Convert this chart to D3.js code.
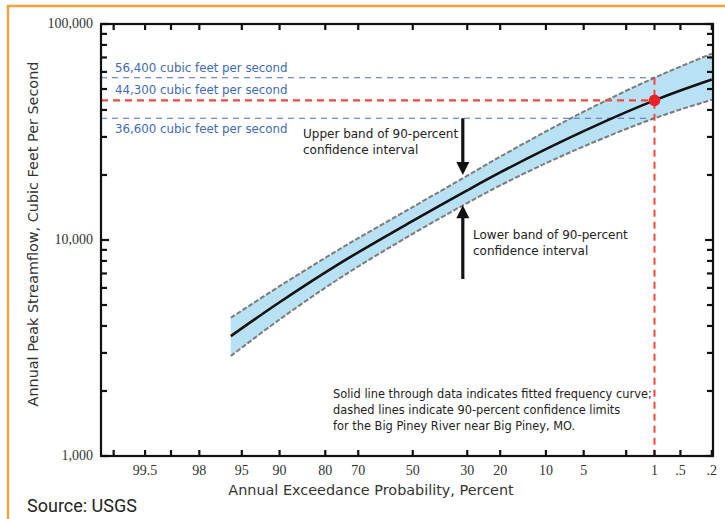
<!DOCTYPE html>
<html lang="en">
<head>
<meta charset="UTF-8">
<title>Big Piney River peak streamflow frequency</title>
<script src="https://cdn.jsdelivr.net/npm/d3@7"></script>
<style>
  body { margin: 0; background: #fff; }
  svg { display: block; }
  .tick-label { font-family: "Liberation Serif", serif; font-size: 14px; fill: #333; }
  .axis-title { font-family: "DejaVu Sans", sans-serif; font-size: 14.4px; fill: #333; }
  .note { font-family: "DejaVu Sans", sans-serif; font-size: 12px; fill: #222; }
  .note.small { font-size: 11.4px; }
  .flow-label { font-family: "DejaVu Sans", sans-serif; font-size: 11.8px; fill: #4169b5; }
  .source { font-family: Roboto, sans-serif; font-size: 18px; fill: #222; }
</style>
</head>
<body>
<svg id="chart" width="725" height="519"></svg>
<script>
// annual exceedance probability (percent) and peak streamflow (cubic feet per second)
const aep    = [96, 90, 75, 50, 30, 20, 10, 5, 2, 1, 0.5, 0.2];
const fitted = [3590, 5150, 7940, 12260, 16980, 20550, 26340, 31920, 39080, 44300, 49200, 55340];
const upper  = [4365, 6110, 9250, 14210, 19860, 24310, 31800, 39260, 49090, 56400, 63530, 72950];
const lower  = [2904, 4285, 6790, 10680, 14830, 17890, 22670, 27100, 32660, 36600, 40180, 44570];

// axis ticks
const xTicks  = [99.8, 99.5, 99, 98, 95, 90, 80, 70, 50, 30, 20, 10, 5, 2, 1, 0.5, 0.2];
const xLabels = ["", "99.5", "", "98", "95", "90", "80", "70", "50", "30", "20", "10", "5", "", "1", ".5", ".2"];
const yMajor  = [1000, 10000, 100000];

// the 1-percent flood
const designAep = 1;
const flowLines = [56400, 44300, 36600];
const flowText  = ["56,400 cubic feet per second", "44,300 cubic feet per second", "36,600 cubic feet per second"];

// arrows pointing at the bands: [aep, tail flow, tip flow]
const upperArrow = [31.5, 36600, 20000];
const lowerArrow = [31.5, 6600, 14500];

const svg = d3.select("#chart");
const pLeft = 101, pRight = 713, pTop = 24, pBottom = 456;

// inverse normal cdf (Acklam) for the probability axis
function qnorm(p) {
  const a = [-39.69683028665376, 220.9460984245205, -275.9285104469687, 138.3577518672690, -30.66479806614716, 2.506628277459239];
  const b = [-54.47609879822406, 161.5858368580409, -155.6989798598866, 66.80131188771972, -13.28068155288572];
  const c = [-0.007784894002430293, -0.3223964580411365, -2.400758277161838, -2.549732539343734, 4.374664141464968, 2.938163982698783];
  const d = [0.007784695709041462, 0.3224671290700398, 2.445134137142996, 3.754408661907416];
  const pl = 0.02425;
  let q, r;
  if (p < pl) {
    q = Math.sqrt(-2 * Math.log(p));
    return (((((c[0]*q+c[1])*q+c[2])*q+c[3])*q+c[4])*q+c[5]) / ((((d[0]*q+d[1])*q+d[2])*q+d[3])*q+1);
  }
  if (p <= 1 - pl) {
    q = p - 0.5; r = q * q;
    return (((((a[0]*r+a[1])*r+a[2])*r+a[3])*r+a[4])*r+a[5])*q / (((((b[0]*r+b[1])*r+b[2])*r+b[3])*r+b[4])*r+1);
  }
  q = Math.sqrt(-2 * Math.log(1 - p));
  return -(((((c[0]*q+c[1])*q+c[2])*q+c[3])*q+c[4])*q+c[5]) / ((((d[0]*q+d[1])*q+d[2])*q+d[3])*q+1);
}

const zScale = d3.scaleLinear()
  .domain([qnorm(1 - 0.99865), qnorm(1 - 0.00193)])
  .range([pLeft, pRight]);
const x = p => zScale(qnorm(1 - p / 100));
const y = d3.scaleLog().domain([1000, 100000]).range([pBottom, pTop]);

// orange frame round the figure
svg.append("rect")
  .attr("x", 8).attr("y", 6).attr("width", 740).attr("height", 540)
  .attr("fill", "none").attr("stroke", "#f0a33a").attr("stroke-width", 2.5);

svg.append("clipPath").attr("id", "plot-clip")
  .append("rect").attr("x", pLeft).attr("y", pTop).attr("width", pRight - pLeft).attr("height", pBottom - pTop);

const rows = aep.map((p, i) => ({ p: p, fit: fitted[i], hi: upper[i], lo: lower[i] }));
const plot = svg.append("g").attr("clip-path", "url(#plot-clip)");
const smooth = d3.curveCatmullRom.alpha(0.5);

// confidence band
plot.append("path").datum(rows)
  .attr("fill", "#b8e2f4")
  .attr("d", d3.area().x(d => x(d.p)).y0(d => y(d.lo)).y1(d => y(d.hi)).curve(smooth));

["hi", "lo"].forEach(k => {
  plot.append("path").datum(rows)
    .attr("fill", "none").attr("stroke", "#7b7b7b").attr("stroke-width", 2)
    .attr("stroke-dasharray", "5,2")
    .attr("d", d3.line().x(d => x(d.p)).y(d => y(d[k])).curve(smooth));
});

// dashed reference lines
flowLines.forEach((v, i) => {
  const red = i === 1;
  plot.append("line")
    .attr("x1", pLeft).attr("x2", x(designAep))
    .attr("y1", y(v)).attr("y2", y(v))
    .attr("stroke", red ? "#f0483c" : "#4a6cc0")
    .attr("stroke-width", red ? 2.2 : 1.1)
    .attr("stroke-dasharray", red ? "7,5" : "6,5");
});
plot.append("line")
  .attr("x1", x(designAep)).attr("x2", x(designAep))
  .attr("y1", y(flowLines[0])).attr("y2", pBottom)
  .attr("stroke", "#f0483c").attr("stroke-width", 2).attr("stroke-dasharray", "7,5");

// fitted frequency curve
plot.append("path").datum(rows)
  .attr("fill", "none").attr("stroke", "#111").attr("stroke-width", 2.6)
  .attr("d", d3.line().x(d => x(d.p)).y(d => y(d.fit)).curve(smooth));

svg.append("circle")
  .attr("cx", x(designAep)).attr("cy", y(flowLines[1])).attr("r", 5.8)
  .attr("fill", "#e8212b");

// frame and ticks
svg.append("rect")
  .attr("x", pLeft).attr("y", pTop).attr("width", pRight - pLeft).attr("height", pBottom - pTop)
  .attr("fill", "none").attr("stroke", "#111").attr("stroke-width", 2.2);

const tickG = svg.append("g").attr("stroke", "#111").attr("stroke-width", 2.2);
xTicks.forEach(p => {
  tickG.append("line").attr("x1", x(p)).attr("x2", x(p)).attr("y1", pBottom).attr("y2", pBottom - 6);
  tickG.append("line").attr("x1", x(p)).attr("x2", x(p)).attr("y1", pTop).attr("y2", pTop + 6);
});
y.ticks().forEach(v => {
  const len = yMajor.includes(v) ? 8 : 6;
  tickG.append("line").attr("x1", pLeft).attr("x2", pLeft + len).attr("y1", y(v)).attr("y2", y(v));
  tickG.append("line").attr("x1", pRight).attr("x2", pRight - len).attr("y1", y(v)).attr("y2", y(v));
});

svg.selectAll("text.xlab").data(xTicks)
  .join("text").attr("class", "tick-label")
  .attr("x", d => x(d)).attr("y", 475).attr("text-anchor", "middle")
  .text((d, i) => xLabels[i]);

svg.selectAll("text.ylab").data(yMajor)
  .join("text").attr("class", "tick-label")
  .attr("x", pLeft - 8).attr("y", d => y(d) + 4).attr("text-anchor", "end")
  .text(d => d3.format(",")(d));

// axis titles
svg.append("text").attr("class", "axis-title")
  .attr("x", 371).attr("y", 495).attr("text-anchor", "middle")
  .text("Annual Exceedance Probability, Percent");
svg.append("text").attr("class", "axis-title")
  .attr("transform", "translate(38,234) rotate(-90)")
  .attr("text-anchor", "middle")
  .text("Annual Peak Streamflow, Cubic Feet Per Second");

// flow labels
flowText.forEach((t, i) => {
  svg.append("text").attr("class", "flow-label")
    .attr("x", 115).attr("y", i < 2 ? y(flowLines[i]) - 6 : y(flowLines[i]) + 15)
    .text(t);
});

// band arrows
function arrow(a) {
  const ax = x(a[0]), y0 = y(a[1]), y1 = y(a[2]);
  const dir = y1 > y0 ? 1 : -1;
  svg.append("line")
    .attr("x1", ax).attr("x2", ax).attr("y1", y0).attr("y2", y1 - dir * 10)
    .attr("stroke", "#111").attr("stroke-width", 3.2);
  svg.append("path")
    .attr("d", "M" + (ax - 6.5) + "," + (y1 - dir * 13) + "L" + ax + "," + y1 + "L" + (ax + 6.5) + "," + (y1 - dir * 13) + "Z")
    .attr("fill", "#111");
}
arrow(upperArrow);
arrow(lowerArrow);

const notes = [
  { x: 303, y: 138, cls: "note", lines: ["Upper band of 90-percent", "confidence interval"] },
  { x: 473, y: 239, cls: "note", lines: ["Lower band of 90-percent", "confidence interval"] },
  { x: 333, y: 398, cls: "note small", lines: ["Solid line through data indicates fitted frequency curve;",
                            "dashed lines indicate 90-percent confidence limits",
                            "for the Big Piney River near Big Piney, MO."] }
];
notes.forEach(n => {
  n.lines.forEach((t, i) => {
    svg.append("text").attr("class", n.cls)
      .attr("x", n.x).attr("y", n.y + i * 16).text(t);
  });
});

svg.append("text").attr("class", "source")
  .attr("x", 27).attr("y", 512).text("Source: USGS");
</script>
</body>
</html>
